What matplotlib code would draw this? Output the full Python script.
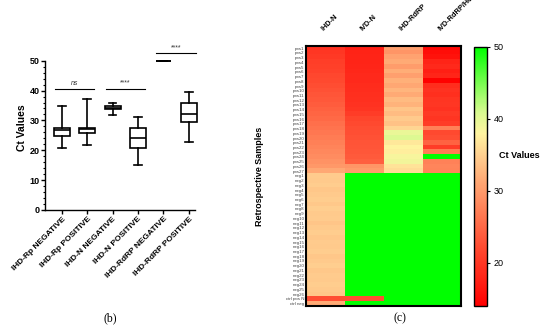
import matplotlib.pyplot as plt
import numpy as np
from matplotlib.colors import LinearSegmentedColormap

plt.rcParams["font.family"] = ["Liberation Sans", "DejaVu Sans"]

# ---- panel (b): box plot summary
box_labels = ["IHD-Rp NEGATIVE", "IHD-Rp POSITIVE", "IHD-N NEGATIVE",
              "IHD-N POSITIVE", "IHD-RdRP NEGATIVE", "IHD-RdRP POSITIVE"]
box_min = [20.6, 21.6, 31.7, 14.9, 50.0, 22.8]
box_q1 = [24.9, 25.9, 33.9, 20.9, 50.0, 29.4]
box_med = [26.8, 27.0, 34.3, 24.1, 50.0, 32.3]
box_q3 = [27.6, 27.6, 34.8, 27.3, 50.0, 36.0]
box_max = [34.9, 37.2, 36.0, 31.3, 50.0, 39.4]
sig_pairs = [(0, 1), (2, 3), (4, 5)]
sig_text = ["ns", "****", "****"]
sig_level = [40.5, 40.5, 52.5]

# ---- panel (c): heatmap values
heat_cols = ["IHD-N", "IVD-N", "IHD-RdRP", "IVD-RdRP/Hel"]
n_pos, n_neg = 27, 26
row_labels = ([f"pos{i}" for i in range(1, n_pos + 1)]
              + [f"neg{i}" for i in range(1, n_neg + 1)]
              + ["ctrl pos N", "ctrl neg"])

ihd_n = [19.5, 20.0, 20.3, 20.8, 21.0, 21.3, 21.8, 22.0, 22.4, 22.8, 23.2, 23.5, 23.9, 24.3,
         24.8, 25.2, 25.7, 26.1, 26.6, 27.0, 27.4, 27.9, 28.3, 28.7, 29.2, 29.8, 31.3,
         34.6, 34.4, 34.8, 34.2, 34.5, 34.7, 34.3, 34.9, 34.4, 34.6, 34.1, 34.5, 34.8,
         34.3, 34.6, 34.4, 34.7, 34.2, 34.5, 34.9, 34.3, 34.6, 34.4, 34.8, 34.5, 34.2,
         22.5, 31.5]
ivd_n = [17.5, 17.8, 18.0, 18.0, 18.2, 18.3, 18.5, 18.6, 18.8, 19.0, 19.1, 19.3, 19.5, 19.8,
         20.5, 21.5, 22.0, 22.3, 22.5, 22.8, 23.0, 23.2, 23.4, 23.6, 24.2, 29.5, 30.2,
         50, 50, 50, 50, 50, 50, 50, 50, 50, 50, 50, 50, 50,
         50, 50, 50, 50, 50, 50, 50, 50, 50, 50, 50, 50, 50,
         22.5, 50]
ihd_rdrp = [30.5, 29.5, 30.8, 31.5, 30.2, 31.8, 30.5, 32.0, 31.2, 32.5, 31.5, 33.0, 32.3, 34.0,
            33.2, 34.5, 33.8, 35.5, 39.5, 40.5, 37.0, 38.0, 37.5, 38.5, 39.0, 36.5, 36.0,
            50, 50, 50, 50, 50, 50, 50, 50, 50, 50, 50, 50, 50,
            50, 50, 50, 50, 50, 50, 50, 50, 50, 50, 50, 50, 50,
            50, 50]
ivd_rdrp_hel = [15.0, 15.5, 16.0, 18.0, 18.5, 17.5, 18.2, 14.2, 19.0, 19.5, 19.2, 19.8, 20.0, 19.5,
                20.2, 19.8, 20.5, 27.5, 22.0, 22.5, 24.5, 20.5, 27.0, 50.0, 27.5, 28.0, 27.8,
                50, 50, 50, 50, 50, 50, 50, 50, 50, 50, 50, 50, 50,
                50, 50, 50, 50, 50, 50, 50, 50, 50, 50, 50, 50, 50,
                50, 50]
cbar_ticks = [20, 30, 40, 50]
vmin, vmax = 14, 50

fig = plt.figure(figsize=(5.5, 3.3), dpi=100)

# ================= panel (b)
ax = fig.add_axes([0.082, 0.364, 0.273, 0.497])
stats = []
for i, lab in enumerate(box_labels):
    stats.append(dict(label=lab, whislo=box_min[i], q1=box_q1[i], med=box_med[i],
                      q3=box_q3[i], whishi=box_max[i], fliers=[]))
pos = np.arange(len(box_labels))
lw = 1.2
art = ax.bxp(stats, positions=pos, widths=0.62, capwidths=0.3, patch_artist=True,
             showfliers=False,
             boxprops=dict(facecolor="white", edgecolor="black", linewidth=lw),
             medianprops=dict(color="black", linewidth=lw),
             whiskerprops=dict(color="black", linewidth=lw),
             capprops=dict(color="black", linewidth=lw))
for group in art.values():
    for a in group:
        a.set_clip_on(False)

ax.set_xlim(-0.66, 5.25)
ax.set_ylim(0, 55)
ax.spines["top"].set_visible(False)
ax.spines["right"].set_visible(False)
ax.spines["left"].set_bounds(0, 50)
ax.spines["left"].set_linewidth(1.0)
ax.spines["bottom"].set_linewidth(1.0)
ax.set_yticks([0, 10, 20, 30, 40, 50])
ax.set_yticks(np.arange(0, 51, 2), minor=True)
ax.tick_params(axis="y", which="major", length=3, width=1.0, labelsize=6.5, pad=1)
ax.tick_params(axis="y", which="minor", length=1.5, width=0.8)
ax.tick_params(axis="x", length=3, width=1.0, pad=1)
for t in ax.get_yticklabels():
    t.set_fontweight("bold")
ax.set_xticks(pos)
ax.set_xticklabels(box_labels, rotation=45, ha="right", rotation_mode="anchor",
                   fontsize=6.0, fontweight="bold")
ax.set_ylabel("Ct Values", fontsize=7.5, fontweight="bold", labelpad=2)

for (a, b), txt, lvl in zip(sig_pairs, sig_text, sig_level):
    ax.plot([a - 0.28, b + 0.28], [lvl, lvl], color="black", lw=0.8, clip_on=False)
    ax.text((a + b) / 2, lvl + 0.8, txt, ha="center", va="bottom", fontsize=5,
            style="italic" if txt == "ns" else "normal", color="#333333")

fig.text(0.2, 0.036, "(b)", ha="center", va="center", fontsize=8.5,
         family=["Liberation Serif", "DejaVu Serif"])

# ================= panel (c)
cmap = LinearSegmentedColormap.from_list("ct", [
    (0.0, "#ff0000"),
    (0.222, "#ff4a30"),
    (0.444, "#ff9a6a"),
    (0.583, "#ffd090"),
    (0.667, "#fff4a0"),
    (0.75, "#d8fa90"),
    (1.0, "#00ff00"),
])

heat = np.column_stack([ihd_n, ivd_n, ihd_rdrp, ivd_rdrp_hel])
hx = fig.add_axes([0.556, 0.073, 0.282, 0.788])
im = hx.imshow(heat, cmap=cmap, vmin=vmin, vmax=vmax, aspect="auto",
               interpolation="nearest")
for s in hx.spines.values():
    s.set_linewidth(1.5)
hx.set_xticks(np.arange(len(heat_cols)))
hx.set_xticklabels(heat_cols, rotation=45, ha="left", va="bottom",
                   rotation_mode="anchor", fontsize=5.3, fontweight="bold")
hx.xaxis.tick_top()
hx.tick_params(axis="x", length=0, pad=10)
hx.set_yticks(np.arange(len(row_labels)))
hx.set_yticklabels(row_labels, fontsize=3.2, color="#444444")
hx.tick_params(axis="y", length=0, pad=1)
hx.set_ylabel("Retrospective Samples", fontsize=6.5, fontweight="bold", labelpad=16)

cax = fig.add_axes([0.862, 0.073, 0.024, 0.785])
cb = fig.colorbar(im, cax=cax, ticks=cbar_ticks)
cb.outline.set_linewidth(1.0)
cax.tick_params(labelsize=6.5, length=2.5, width=0.8, pad=2)
cax.text(3.4, 0.58, "Ct Values", transform=cax.transAxes, ha="center", va="center",
         fontsize=6.5, fontweight="bold")

fig.text(0.727, 0.036, "(c)", ha="center", va="center", fontsize=8.5,
         family=["Liberation Serif", "DejaVu Serif"])

fig.savefig("out.png", dpi=100)
plt.close(fig)
